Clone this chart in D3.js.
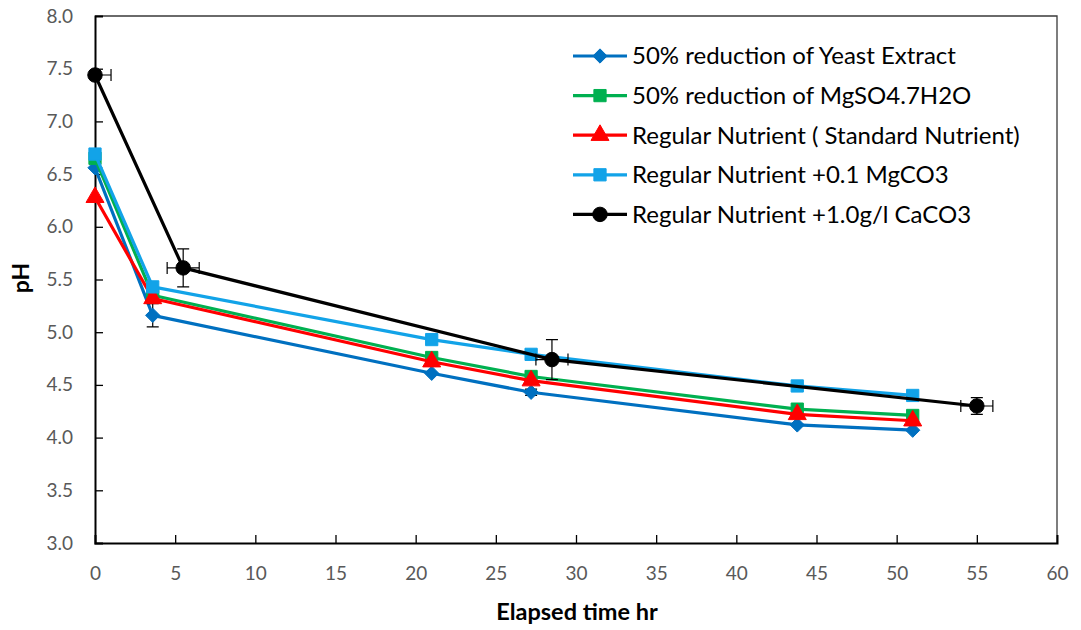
<!DOCTYPE html>
<html>
<head>
<meta charset="utf-8">
<script src="https://cdn.jsdelivr.net/npm/d3@7"></script>
<style>
  html, body { margin: 0; padding: 0; background: #fff; }
  svg { display: block; }
</style>
</head>
<body>
<svg id="chart" width="1081" height="630"></svg>
<script>
// Elapsed time (hr) for the sampled cultures
const timesStd = [0, 3.6, 21, 27.2, 43.8, 51];
const timesCaCO3 = [0, 5.5, 28.5, 55];

// pH readings per medium
const yeastHalf = [6.56, 5.16, 4.61, 4.43, 4.12, 4.07];
const mgso4Half = [6.65, 5.35, 4.76, 4.58, 4.27, 4.21];
const regular = [6.28, 5.32, 4.72, 4.54, 4.22, 4.16];
const mgco3 = [6.69, 5.43, 4.93, 4.79, 4.49, 4.40];
const caco3 = [7.44, 5.61, 4.74, 4.30];

// Error bars (pH and hours)
const yeastHalfErr = [0, 0.11, 0, 0.03, 0, 0];
const mgco3Err = [0, 0, 0, 0.04, 0, 0];
const caco3ErrY = [0, 0.18, 0.19, 0.08];
const caco3ErrX = [1.0, 1.0, 1.0, 1.0];

const seriesNames = [
  "50% reduction of Yeast Extract",
  "50% reduction of MgSO4.7H2O",
  "Regular Nutrient ( Standard Nutrient)",
  "Regular Nutrient +0.1 MgCO3",
  "Regular Nutrient +1.0g/l CaCO3"
];
const seriesColors = ["#0070C0", "#00B050", "#FF0000", "#12A3E8", "#000000"];
const seriesShapes = ["diamond", "square", "triangle", "square", "circle"];

const xTicks = d3.range(0, 61, 5);
const yTicks = d3.range(3, 8.01, 0.5);

const series = [
  { name: seriesNames[0], x: timesStd, y: yeastHalf, ey: yeastHalfErr, ex: null },
  { name: seriesNames[1], x: timesStd, y: mgso4Half, ey: null, ex: null },
  { name: seriesNames[2], x: timesStd, y: regular, ey: null, ex: null },
  { name: seriesNames[3], x: timesStd, y: mgco3, ey: mgco3Err, ex: null },
  { name: seriesNames[4], x: timesCaCO3, y: caco3, ey: caco3ErrY, ex: caco3ErrX }
].map((s, i) => ({ ...s, color: seriesColors[i], shape: seriesShapes[i] }));

const svg = d3.select("#chart");
const plot = { left: 95, right: 1057, top: 16, bottom: 543 };

const x = d3.scaleLinear().domain([0, 60]).range([plot.left, plot.right]);
const y = d3.scaleLinear().domain([3, 8]).range([plot.bottom, plot.top]);

const font = "Lato, 'Noto Sans', sans-serif";

// plot frame (top/right)
svg.append("path")
  .attr("d", `M${plot.left},${plot.top}H${plot.right}V${plot.bottom}`)
  .attr("fill", "none").attr("stroke", "#3a3a3a").attr("stroke-width", 1.3);

// axes
const xAxis = svg.append("g").attr("transform", `translate(0,${plot.bottom})`)
  .call(d3.axisBottom(x).tickValues(xTicks).tickSize(-8).tickPadding(24).tickFormat(d3.format("d")));
const yAxis = svg.append("g").attr("transform", `translate(${plot.left},0)`)
  .call(d3.axisLeft(y).tickValues(yTicks).tickSize(-8).tickPadding(22).tickFormat(d3.format(".1f")));

[xAxis, yAxis].forEach(g => {
  g.select(".domain").attr("stroke", "#000").attr("stroke-width", 2);
  g.selectAll(".tick line").attr("stroke", "#000").attr("stroke-width", 1.3);
  g.selectAll(".tick text").attr("fill", "#595959").style("font-family", font).style("font-size", "19px");
});
xAxis.selectAll(".tick").filter(d => d === 0 || d === 60).select("line").remove();
yAxis.selectAll(".tick").filter(d => d === 3 || d === 8).select("line").remove();

// axis titles
svg.append("text").attr("x", 577).attr("y", 620)
  .attr("text-anchor", "middle").style("font-family", font).style("font-size", "23.5px")
  .style("font-weight", "bold").attr("fill", "#000").text("Elapsed time hr");
svg.append("text").attr("transform", `translate(29,278) rotate(-90)`)
  .attr("text-anchor", "middle").style("font-family", font).style("font-size", "23px")
  .style("font-weight", "bold").attr("fill", "#000").text("pH");

const symbolOf = {
  diamond: d3.symbol().type(d3.symbolDiamond2).size(130),
  square: d3.symbol().type(d3.symbolSquare).size(150),
  triangle: d3.symbol().type(d3.symbolTriangle).size(140),
  circle: d3.symbol().type(d3.symbolCircle).size(165)
};

function drawMarker(g, shape, color, cx, cy) {
  g.append("path").attr("d", symbolOf[shape]())
    .attr("transform", `translate(${cx},${cy})`)
    .attr("fill", color).attr("stroke", color).attr("stroke-width", 1);
}

const line = d3.line().x(d => x(d[0])).y(d => y(d[1]));

series.forEach(s => {
  const g = svg.append("g");
  const pts = s.x.map((t, i) => [t, s.y[i]]);
  g.append("path").datum(pts).attr("d", line)
    .attr("fill", "none").attr("stroke", s.color).attr("stroke-width", 3.2)
    .attr("stroke-linejoin", "round");
  // error bars
  pts.forEach((p, i) => {
    const cx = x(p[0]), cy = y(p[1]);
    if (s.ey && s.ey[i] > 0) {
      const y0 = y(p[1] - s.ey[i]), y1 = y(p[1] + s.ey[i]);
      g.append("path").attr("d", `M${cx},${y0}V${y1}M${cx - 6},${y0}H${cx + 6}M${cx - 6},${y1}H${cx + 6}`)
        .attr("stroke", "#000").attr("stroke-width", 1.2).attr("fill", "none");
    }
    if (s.ex && s.ex[i] > 0) {
      const x0 = Math.max(x(p[0] - s.ex[i]), plot.left), x1 = x(p[0] + s.ex[i]);
      let d = `M${x0},${cy}H${x1}M${x1},${cy - 6}V${cy + 6}`;
      if (x(p[0] - s.ex[i]) >= plot.left) d += `M${x0},${cy - 6}V${cy + 6}`;
      g.append("path").attr("d", d)
        .attr("stroke", "#000").attr("stroke-width", 1.2).attr("fill", "none");
    }
  });
  pts.forEach(p => drawMarker(g, s.shape, s.color, x(p[0]), y(p[1])));
});

// legend
const legend = svg.append("g");
series.forEach((s, i) => {
  const ly = 56 + i * 39.6;
  legend.append("line").attr("x1", 573).attr("x2", 627).attr("y1", ly).attr("y2", ly)
    .attr("stroke", s.color).attr("stroke-width", 3.2);
  drawMarker(legend, s.shape, s.color, 600, ly);
  legend.append("text").attr("x", 632).attr("y", ly).attr("dy", "0.35em")
    .style("font-family", font).style("font-size", "24px").attr("fill", "#000").text(s.name);
});
</script>
</body>
</html>
